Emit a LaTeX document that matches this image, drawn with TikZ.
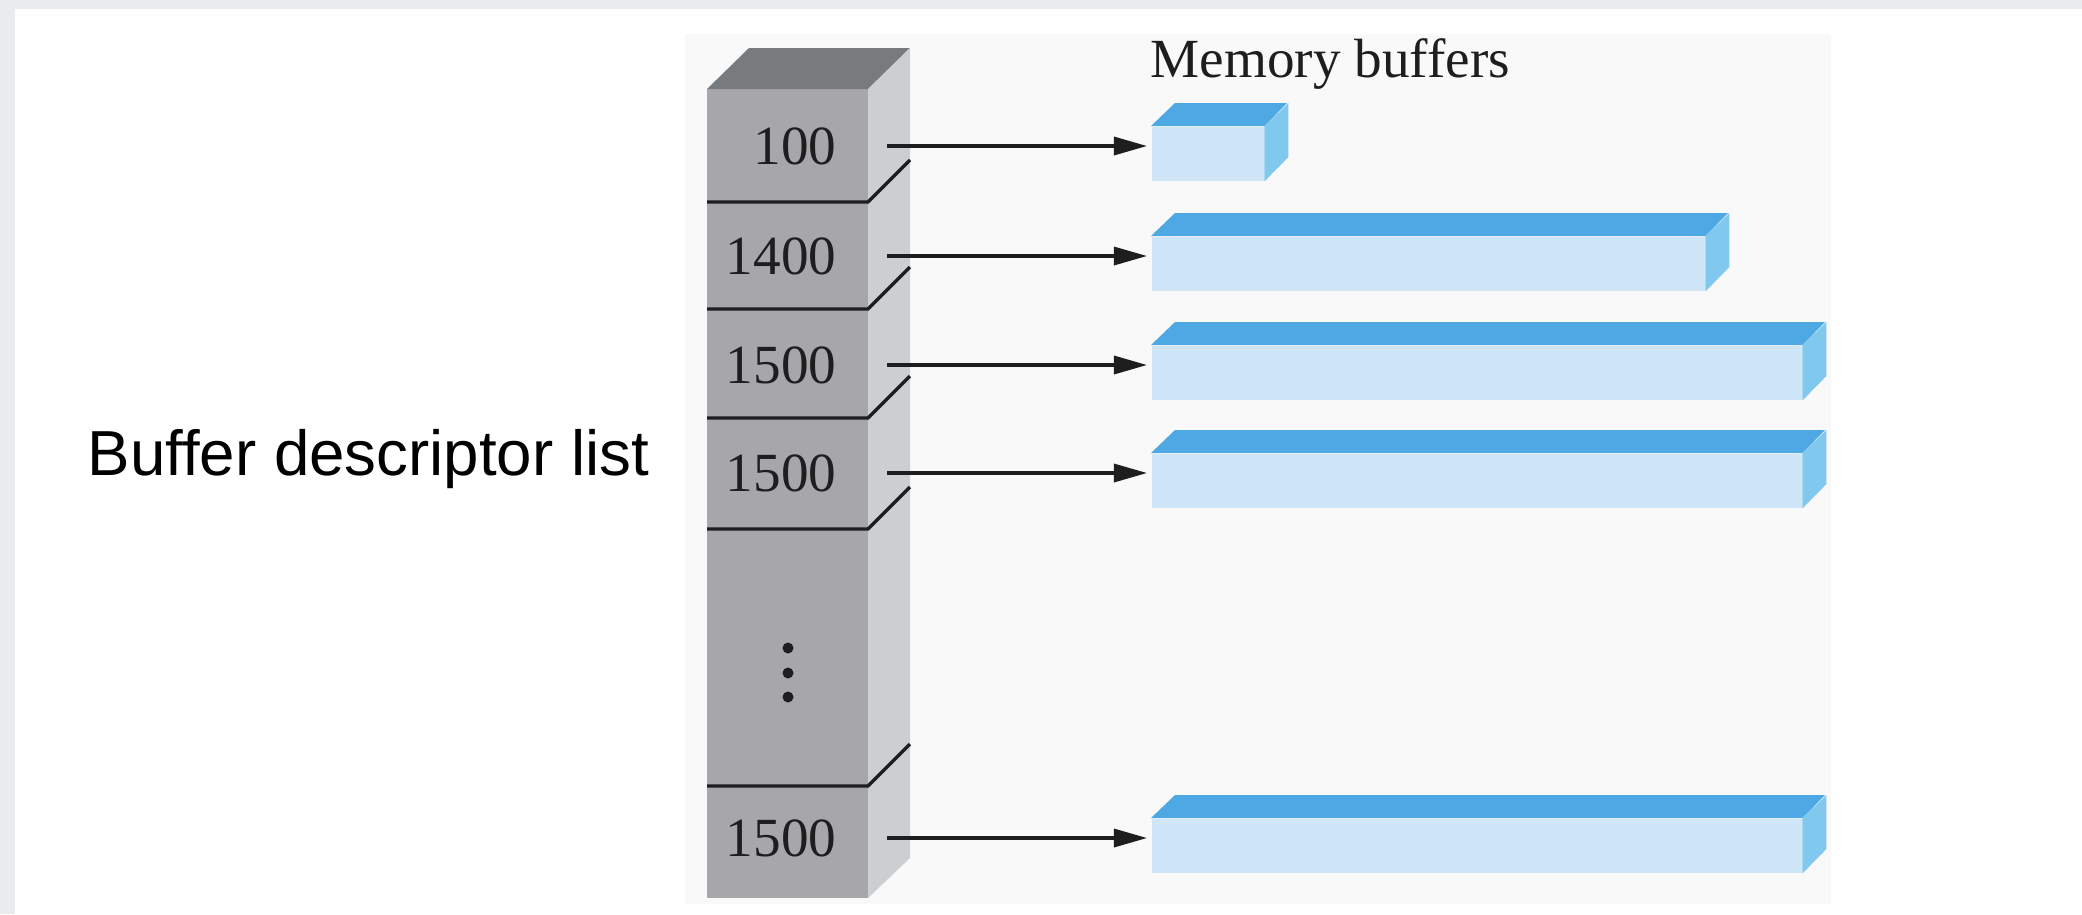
\documentclass[tikz,border=0pt]{standalone}
\usepackage{fontspec}
\setmainfont{Liberation Serif}
\newfontfamily\sansfont{Liberation Sans}
\usetikzlibrary{arrows.meta}

\definecolor{cadre}{HTML}{E9EBEE}
\definecolor{fond}{HTML}{F9F9F9}
\definecolor{grisface}{HTML}{A7A6AB}
\definecolor{grishaut}{HTML}{787B7D}
\definecolor{griscote}{HTML}{CBCFD1}
\definecolor{bleuface}{HTML}{CFE5F8}
\definecolor{bleuhaut}{HTML}{4EA8E4}
\definecolor{bleucote}{HTML}{80C8EE}
\definecolor{encre}{HTML}{1E1E1E}

\tikzset{
  valeur/.style={inner sep=0pt, text=encre, font=\fontsize{15.7}{18}\selectfont},
  fleche/.style={encre, line width=0.95pt, shorten >=0.04cm, -{Triangle[length=0.33cm, width=0.18cm]}},
  trait/.style={encre, line width=0.95pt},
  tampon/.style={fill=bleuface, inner sep=0pt, minimum height=0.54cm, anchor=north west}
}

\begin{document}
\begin{tikzpicture}[x=0.01cm, y=-0.01cm]
\useasboundingbox (0,0) rectangle (2082,914);

% Fond
\fill[white] (0,0) rectangle (2082,914);
\fill[cadre] (0,0) rectangle (15,914);
\fill[cadre] (0,0) rectangle (2082,9);
\fill[fond] (685,34) rectangle (1831,904);

% Colonne des descripteurs
\fill[grisface] (707,89) rectangle (868,898);
\fill[grishaut] (707,89) -- (749,48) -- (910,48) -- (868,89) -- cycle;
\fill[griscote] (868,89) -- (910,48) -- (910,858) -- (868,898) -- cycle;

\foreach \y in {202,309,418,529,786}
  \draw[trait] (707,\y) -- (868,\y) -- ++(42,-42);

% Points de suspension
\foreach \y in {648,673,697}
  \fill[encre] (788,\y) circle (0.055cm);

% Titres
\node[valeur, anchor=base west] (titre) at (1150,77) {Memory buffers};
\node[anchor=base west, inner sep=0pt, font=\sansfont\fontsize{18.1}{22}\selectfont] (liste) at (87,475) {Buffer descriptor list};

% Tampons memoire et fleches
\foreach \i/\y/\val/\len in {1/146/100/112, 2/256/1400/553, 3/365/1500/650, 4/473/1500/650, 5/838/1500/650} {
  \node[valeur, anchor=east] (d\i) at (837,\y) {\val};
  \node[tampon, minimum width=\len*0.01cm] (b\i) at (1151,\y-20) {};
  \fill[bleuhaut] (b\i.north west) -- ++(24,-23) -- ++(\len,0) -- (b\i.north east) -- cycle;
  \fill[bleucote] (b\i.north east) -- ++(24,-23) -- ++(0,54) -- (b\i.south east) -- cycle;
  \coordinate (s\i) at (887,\y);
  \draw[fleche] (s\i) -- (s\i -| b\i.west);
}

\end{tikzpicture}
\end{document}
